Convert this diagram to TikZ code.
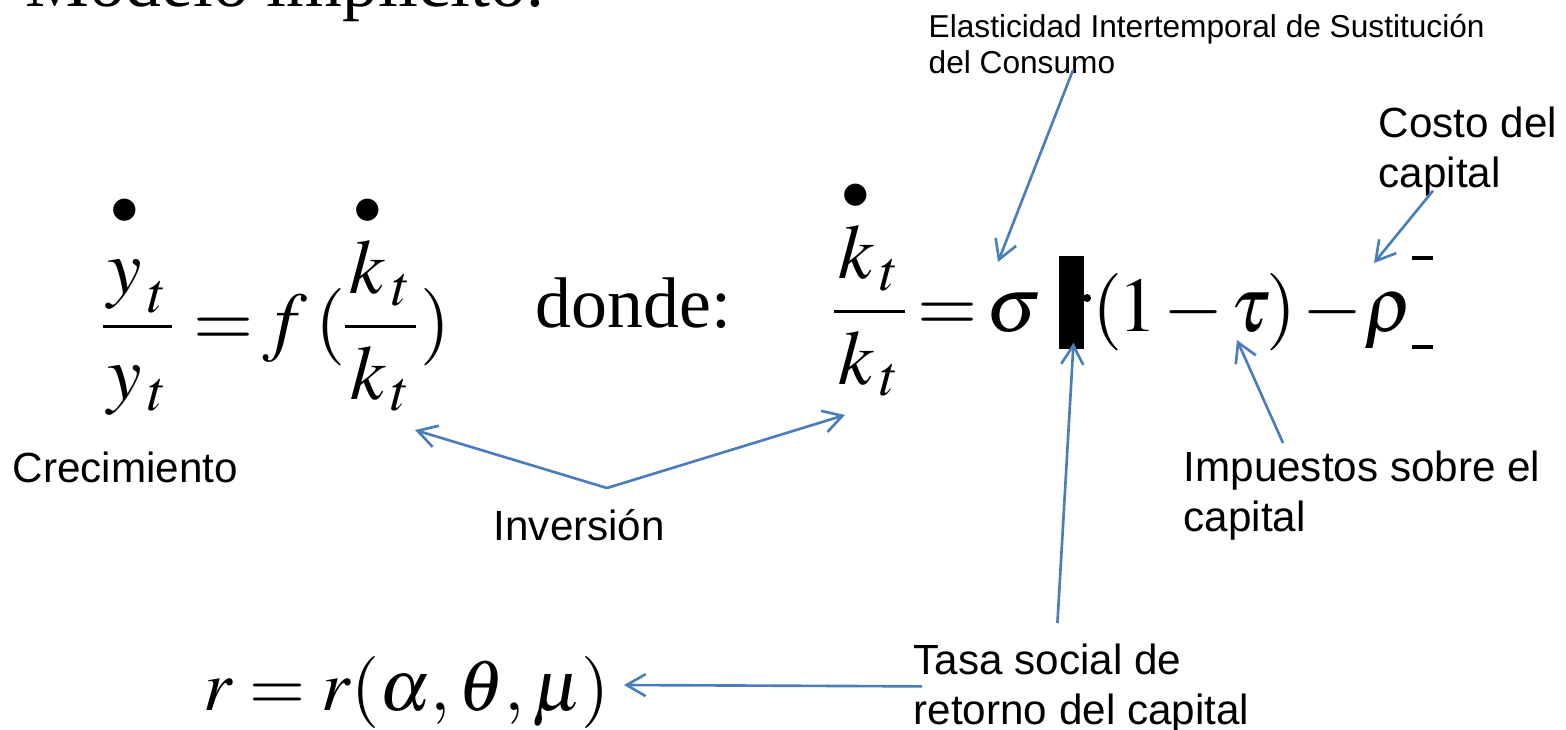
\documentclass[tikz,border=0pt]{standalone}
\usepackage{amsmath}
\usepackage{mathptmx}
\usepackage{fontspec}
\setmainfont{Liberation Serif}
\newfontfamily\labelfont{Liberation Sans}
\usetikzlibrary{arrows.meta}
\definecolor{callblue}{HTML}{4A7EBB}

\begin{document}
\begin{tikzpicture}[x=0.01cm, y=-0.01cm,
  lbl/.style={font=\labelfont\fontsize{12}{14.2}\selectfont, inner sep=0pt, align=left},
  smalllbl/.style={font=\labelfont\fontsize{9}{10.5}\selectfont, inner sep=0pt, align=left},
  eqn/.style={font=\fontsize{22}{26}\selectfont, inner sep=0pt},
  callout/.style={draw=callblue, line width=0.75pt,
                  -{Straight Barb[length=0.19cm,width=0.22cm]}}
]
\clip (0,0) rectangle (1566,729);

% --- title (cut by the top edge) ---
\node[font=\fontsize{20.4}{24}\selectfont, inner sep=0pt, anchor=base west]
  (title) at (25,6) {Modelo implícito:};

% --- equations ---
\node[eqn, anchor=base west] (eqA) at (98,346)
  {$\displaystyle
    \frac{\mkern1mu{\overset{\bullet}{\vphantom{k}y}}_{\mkern2mu t}\mkern1mu}
         {\mkern1mu y_{\mkern2mu t}\mkern1mu}
    = \mkern-2mu f\mkern2mu(\mkern-1mu
    \frac{\mkern1mu{\overset{\bullet}{k}}_{\mkern2mu t}\mkern1mu}
         {\mkern1mu k_{\mkern2mu t}\mkern1mu})$};
\node[font=\fontsize{20.4}{24}\selectfont, inner sep=0pt, anchor=base west]
  (donde) at (535,327) {donde:};
\node[eqn, anchor=base west] (eqB) at (829,331)
  {$\displaystyle
    \frac{\mkern1mu{\overset{\bullet}{k}}_{\mkern2mu t}\mkern1mu}
         {\mkern1mu k_{\mkern2mu t}\mkern1mu} \mkern-2mu = \mkern-2mu \sigma$};
\node[fill=black, inner sep=0pt, minimum width=0.25cm, minimum height=0.93cm]
  (brk) at (1071.5,302.5) {};
\fill (1087,298) circle[radius=0.04cm];
\node[eqn, anchor=base west] (eqBr) at (1092,331)
  {$(\mkern-1mu 1\mkern1.5mu{-}\mkern1.5mu\tau\mkern-1mu)\mkern1.5mu{-}\mkern0.5mu\rho$};
\draw[line width=0.04cm] (1412,258) -- (1433,258);
\draw[line width=0.04cm] (1412,347) -- (1433,347);
\node[eqn, font=\fontsize{20.5}{24}\selectfont, anchor=base west] (eqC) at (203,710)
  {$r = r(\alpha, \theta, \mu)$};

% --- labels ---
\node[smalllbl, anchor=north west] (elast) at (928,13)
  {Elasticidad Intertemporal de Sustitución\\del Consumo};
\node[lbl, anchor=north west] (costo) at (1378,106) {Costo del\\capital};
\node[lbl, anchor=base west] (crec) at (12,482) {Crecimiento};
\node[lbl, anchor=base west] (inv) at (493,540) {Inversión};
\node[lbl, anchor=north west] (impu) at (1183,450) {Impuestos sobre el\\capital};
\node[lbl, anchor=north west] (tasa) at (913,643) {Tasa social de\\retorno del capital};

% --- arrow ends on the equations ---
\coordinate (tipSig) at (998,262);
\coordinate (tipRho) at (1374,263);
\coordinate (tipTau) at (1237,340);
\coordinate (tipKA) at (415,430);
\coordinate (tipKB) at (845,415);
\coordinate (invV) at (607,488);
\coordinate (tipR) at (624,685);

% --- connectors ---
\draw[callout] ([shift={(145,57)}]elast.north west) -- (tipSig);
\draw[callout] ([shift={(55,-6)}]costo.south west) -- (tipRho);
\draw[callout] ([shift={(100,-7)}]impu.north west) -- (tipTau);
\draw[callout] (invV) -- (tipKA);
\draw[callout] (invV) -- (tipKB);
\draw[callout] ([shift={(-24,-20)}]tasa.north) -- ([shift={(2,-7)}]brk.south);
\draw[callout] ([shift={(9,-2)}]tasa.west) -- (tipR);

\end{tikzpicture}
\end{document}
